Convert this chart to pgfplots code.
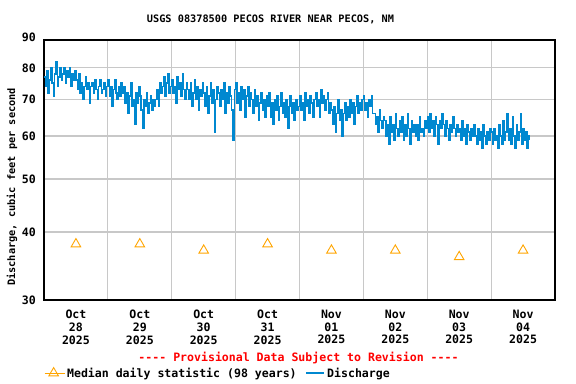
\documentclass[border=0pt]{standalone}
\usepackage{fontspec}
\usepackage{pgfplots}
\pgfplotsset{compat=1.18}
\newfontfamily\usgs{DejaVu Sans Mono}
\definecolor{qblue}{HTML}{0088D0}
\definecolor{medorange}{HTML}{FFA500}
\definecolor{gridgray}{HTML}{C8C8C8}
\newcommand\tickfont{\usgs\bfseries\fontsize{11.6}{12.7}\selectfont}
\newcommand\smallfont{\usgs\bfseries\fontsize{10.3}{12}\selectfont}

\begin{document}
\begin{tikzpicture}
\useasboundingbox (0,0) rectangle (576bp,384bp);
\begin{axis}[
    at={(44bp,84bp)}, anchor=south west,
    width=511bp, height=260bp, scale only axis,
    xmin=0, xmax=384,
    ymode=log, ymin=30, ymax=90,
    xtick={24,72,...,360},
    xticklabels={{Oct\\28\\2025},{Oct\\29\\2025},{Oct\\30\\2025},{Oct\\31\\2025},
                 {Nov\\01\\2025},{Nov\\02\\2025},{Nov\\03\\2025},{Nov\\04\\2025}},
    minor xtick={48,96,...,336},
    ytick={30,40,50,60,70,80,90},
    yticklabels={30,40,50,60,70,80,\raisebox{5bp}{90}},
    minor ytick={},
    xminorgrids=true, ymajorgrids=true, xmajorgrids=false,
    grid style={gridgray, line width=1.2bp},
    major tick length=0pt, minor tick length=0pt,
    axis line style={line width=1.6bp},
    tick label style={font=\tickfont},
    /pgf/number format/assume math mode=true,
    xticklabel style={align=center, inner sep=0pt},
    xticklabel shift=10bp,
    yticklabel style={inner sep=0pt},
    yticklabel shift=8bp,
    ylabel={Discharge, cubic feet per second},
    ylabel style={font=\smallfont, at={(axis description cs:-0.0626,0.435)}, anchor=center},
    legend style={at={(0.0,-0.281)}, anchor=west, draw=none, fill=none,
        inner sep=0pt, legend columns=2, font=\tickfont,
        /tikz/every even column/.append style={column sep=7bp}},
]
% median daily statistic, one per day at noon
\addplot[only marks, mark=triangle, mark size=5.5bp, color=medorange, line width=0.9bp,
    legend image code/.code={\path (0bp,0bp) -- (20bp,0bp);
        \draw[medorange, line width=0.9bp, mark=triangle, mark size=5.5bp, only marks] plot coordinates {(9bp,0bp)};}]
coordinates {
    (24,38) (72,38) (120,37) (168,38) (216,37) (264,37) (312,36) (360,37)
};
\addlegendentry{Median daily statistic (98 years)}
% discharge, half-hour steps (x = half hours since Oct 28 00:00)
\addplot[const plot, draw=qblue, line width=1.4bp,
    legend image code/.code={\draw[qblue, line width=1.5bp] (0bp,0bp) -- (18bp,0bp);}]
coordinates {
(0,77)(1,74)(2,79)(3,72)(4,76)(5,80)(6,75)(7,71)(8,78)(9,82)(10,74)(11,77)
(12,80)(13,76)(14,78)(15,80)(16,75)(17,79)(18,77)(19,80)(20,74)(21,78)(22,76)(23,79)
(24,76)(25,73)(26,78)(27,72)(28,75)(29,70)(30,74)(31,77)(32,73)(33,75)(34,69)(35,74)
(36,75)(37,72)(38,76)(39,73)(40,70)(41,74)(42,76)(43,72)(44,73)(45,75)(46,71)(47,74)
(48,76)(49,71)(50,74)(51,68)(52,73)(53,76)(54,72)(55,70)(56,74)(57,71)(58,75)(59,72)
(60,74)(61,69)(62,72)(63,66)(64,71)(65,75)(66,68)(67,70)(68,63)(69,72)(70,69)(71,74)
(72,71)(73,67)(74,62)(75,70)(76,68)(77,72)(78,66)(79,69)(80,71)(81,67)(82,70)(83,68)
(84,70)(85,73)(86,68)(87,75)(88,72)(89,74)(90,77)(91,71)(92,75)(93,78)(94,72)(95,74)
(96,76)(97,72)(98,74)(99,69)(100,77)(101,73)(102,75)(103,71)(104,78)(105,73)(106,70)(107,75)
(108,73)(109,70)(110,75)(111,68)(112,72)(113,76)(114,70)(115,74)(116,67)(117,73)(118,71)(119,75)
(120,72)(121,68)(122,74)(123,66)(124,71)(125,75)(126,69)(127,73)(128,61)(129,70)(130,74)(131,72)
(132,68)(133,73)(134,70)(135,75)(136,66)(137,72)(138,69)(139,74)(140,71)(141,67)(142,59)(143,73)
(144,75)(145,69)(146,72)(147,67)(148,74)(149,70)(150,73)(151,65)(152,71)(153,74)(154,68)(155,72)
(156,70)(157,66)(158,73)(159,68)(160,71)(161,64)(162,69)(163,72)(164,67)(165,70)(166,65)(167,71)
(168,68)(169,72)(170,65)(171,69)(172,63)(173,70)(174,67)(175,71)(176,64)(177,68)(178,72)(179,66)
(180,69)(181,65)(182,70)(183,62)(184,68)(185,71)(186,66)(187,69)(188,64)(189,70)(190,67)(191,68)
(192,71)(193,67)(194,69)(195,64)(196,72)(197,68)(198,70)(199,66)(200,71)(201,69)(202,65)(203,70)
(204,72)(205,68)(206,70)(207,65)(208,73)(209,69)(210,71)(211,67)(212,70)(213,72)(214,66)(215,69)
(216,67)(217,63)(218,68)(219,61)(220,66)(221,70)(222,64)(223,67)(224,60)(225,66)(226,69)(227,64)
(228,68)(229,65)(230,70)(231,66)(232,69)(233,63)(234,68)(235,71)(236,66)(237,69)(238,67)(239,70)
(240,71)(241,67)(242,69)(243,65)(244,70)(245,68)(246,71)(247,66)(248,66)(249,63)(250,65)(251,61)
(252,67)(253,64)(254,62)(255,65)(256,64)(257,60)(258,63)(259,58)(260,65)(261,61)(262,63)(263,59)
(264,66)(265,62)(266,60)(267,64)(268,61)(269,65)(270,59)(271,63)(272,60)(273,66)(274,62)(275,58)
(276,64)(277,61)(278,63)(279,60)(280,63)(281,59)(282,65)(283,61)(284,62)(285,60)(286,64)(287,62)
(288,65)(289,61)(290,66)(291,62)(292,64)(293,60)(294,65)(295,63)(296,58)(297,64)(298,62)(299,66)
(300,63)(301,60)(302,64)(303,62)(304,59)(305,63)(306,61)(307,65)(308,62)(309,60)(310,63)(311,61)
(312,62)(313,59)(314,64)(315,60)(316,62)(317,58)(318,63)(319,61)(320,59)(321,62)(322,60)(323,63)
(324,60)(325,58)(326,62)(327,59)(328,61)(329,57)(330,63)(331,60)(332,58)(333,61)(334,59)(335,62)
(336,61)(337,58)(338,62)(339,59)(340,60)(341,57)(342,63)(343,60)(344,58)(345,64)(346,59)(347,61)
(348,66)(349,59)(350,62)(351,58)(352,65)(353,60)(354,57)(355,63)(356,59)(357,61)(358,66)(359,58)
(360,62)(361,59)(362,61)(363,57)(364,60)(365,59)
};
\addlegendentry{Discharge}
\end{axis}
\node[font=\smallfont] at (270.5bp,365bp) {USGS 08378500 PECOS RIVER NEAR PECOS, NM};
\node[font=\tickfont, text=red] at (298.5bp,26bp)
    {-{}-{}-{}- Provisional Data Subject to Revision -{}-{}-{}-};
\end{tikzpicture}
\end{document}
